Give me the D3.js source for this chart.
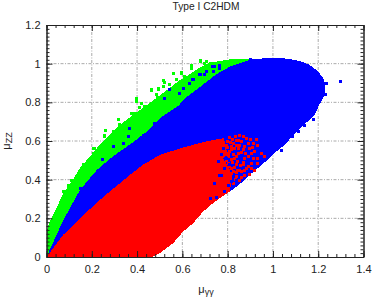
<!DOCTYPE html>
<html>
<head>
<meta charset="utf-8">
<script src="https://cdn.jsdelivr.net/npm/d3@7"></script>
<style>
  html, body { margin: 0; padding: 0; background: #fff; }
  text { font-family: "Liberation Sans", Arial, sans-serif; fill: #222; }
</style>
</head>
<body>
<div id="chart"></div>
<script>
// Axis ticks
const xTicks = [0, 0.2, 0.4, 0.6, 0.8, 1, 1.2, 1.4];
const yTicks = [0, 0.2, 0.4, 0.6, 0.8, 1, 1.2];
const xMinorTicks = d3.range(0, 36).map(i => i * 0.04);
const yMinorTicks = d3.range(0, 61).map(i => i * 0.02);

// Outlines of the dense regions as [mu_yy, mu_zz]
const greenOutline = [[0,0],[0,.12],[.012,.18],[.037,.234],[.074,.33],[.111,.39],[.148,.46],[.206,.54],[.25,.60],[.31,.67],[.382,.735],[.442,.785],[.5,.835],[.545,.875],[.589,.915],[.633,.945],[.677,.98],[.721,1.005],[.809,1.022],[.897,1.025],[.9,.9],[.3,.4]];
const blueOutline = [[0,0],[.074,.19],[.148,.347],[.222,.45],[.293,.52],[.376,.588],[.442,.648],[.5,.717],[.581,.781],[.62,.828],[.662,.865],[.75,.945],[.809,.984],[.897,1.02],[.96,1.028],[1.016,1.03],[1.07,1.025],[1.118,1.014],[1.16,.995],[1.193,.967],[1.22,.93],[1.232,.89],[1.228,.838],[1.206,.79],[1.184,.735],[1.134,.68],[1.09,.63],[1.052,.58],[1.007,.538],[.985,.512],[.941,.467],[.897,.424],[.853,.376],[.809,.338],[.5,.1],[0,0]];
const redOutline = [[0,0],[.073,.114],[.178,.233],[.25,.31],[.368,.424],[.425,.476],[.5,.528],[.6,.565],[.694,.595],[.783,.615],[.8,.53],[.78,.51],[.81,.45],[.82,.41],[.809,.338],[.743,.286],[.691,.234],[.647,.174],[.603,.131],[.559,.071],[.5,.019],[.465,0],[.46,-.004],[0,-.004]];

// Loose points around the dense regions
const greenPoints = [[.464,.860],[.489,.825],[.420,.795],[.398,.803],[.434,.781],[.390,.743],[.383,.717],[.342,.678],[.317,.709],[.332,.671],[.295,.648],[.310,.631],[.258,.631],[.280,.614],[.214,.562],[.228,.562],[.680,1.014],[.640,.993],[.640,.976],[.596,.950],[.559,.947],[.611,.933],[.574,.916],[.522,.904],[.515,.881],[.462,.864],[.486,.838],[.493,.873],[.545,.890],[.699,1.002],[.724,1.002],[.757,1.002],[.398,.821],[.515,.912],[.596,.953],[.493,.868],[.376,.743],[.409,.774],[.262,.652],[.254,.622],[.206,.562],[.324,.683],[.162,.481],[.184,.488],[.206,.533],[.111,.398],[.096,.372],[.074,.338],[.148,.424],[.678,1.01],[.642,.985],[.707,1.01]];
const bluePoints = [[.478,.692],[.368,.666],[.361,.622],[.295,.571],[.339,.588],[.427,.631],[.733,.984],[.706,.959],[.699,.942],[.647,.916],[.603,.873],[.545,.864],[.522,.821],[.589,.847],[.633,.899],[.743,.984],[.677,.942],[.765,.976],[.899,1.023],[.765,.988],[.737,.959],[.678,.942],[.649,.916],[.228,.45],[.148,.355],[.249,.502],[.067,.097],[1.3,.909],[1.232,.838],[1.237,.899],[1.215,.924],[1.178,.712],[1.141,.678],[1.112,.648],[1.087,.622],[1.053,.596],[1.038,.55]];
const redPoints = [[.927,.610],[.868,.622],[.853,.628],[.883,.614],[.839,.605],[.809,.617],[.824,.588],[.890,.588],[.912,.588],[.934,.579],[.897,.562],[.868,.554],[.853,.579],[.919,.545],[.890,.519],[.949,.536],[.912,.511],[.875,.511],[.905,.485],[.934,.485],[.883,.459],[.868,.480],[.919,.450],[.853,.450],[.831,.511],[.817,.554],[.802,.536],[.839,.476],[.817,.459],[.897,.428],[.875,.424],[.839,.415],[.853,.398],[.824,.381],[.846,.536],[.802,.485],[.934,.511],[.963,.519],[.794,.579],
  [.80,.60],[.812,.59],[.80,.565],[.815,.57],[.83,.56],[.81,.545],[.825,.53],[.84,.52],[.805,.52],[.815,.505],[.795,.5],[.82,.49],[.845,.495],[.81,.47],[.83,.465],[.8,.455],[.825,.44],[.845,.45],[.815,.43],[.84,.435],[.86,.44],[.835,.4],[.86,.41],[.85,.56],[.84,.575],[.86,.595],[.875,.57],[.835,.625],[.82,.61],[.85,.605],[.9,.61],[.86,.54],[.88,.535],[.905,.535],[.87,.49],[.89,.47],[.855,.475],[.905,.46],[.875,.445],[.91,.565]];
const blueOnRed = [[.765,.424],[.794,.511],[.787,.459],[.772,.528],[.806,.476],[.743,.381],[.78,.562],[.758,.493],[.772,.42],[.817,.39],[.839,.398],[.802,.372],[.787,.338],[.75,.307],[.725,.304]];

const width = 374, height = 298;
const plotLeft = 46.5, plotRight = 363.5, plotTop = 25, plotBottom = 257;

const x = d3.scaleLinear().domain([0, 1.4]).range([plotLeft, plotRight]);
const y = d3.scaleLinear().domain([0, 1.2]).range([plotBottom, plotTop]);

const svg = d3.select("#chart")
  .append("svg")
  .attr("width", width)
  .attr("height", height)
  .style("display", "block");

// Dotted grid
svg.append("g")
  .selectAll("line")
  .data(xTicks.slice(1, -1))
  .join("line")
  .attr("x1", d => x(d)).attr("x2", d => x(d))
  .attr("y1", plotTop).attr("y2", plotBottom)
  .attr("stroke", "#aaa").attr("stroke-dasharray", "3 1.5 1 1.5");

svg.append("g")
  .selectAll("line")
  .data(yTicks.slice(1, -1))
  .join("line")
  .attr("x1", plotLeft).attr("x2", plotRight)
  .attr("y1", d => y(d)).attr("y2", d => y(d))
  .attr("stroke", "#aaa").attr("stroke-dasharray", "3 1.5 1 1.5");

// Dense regions, then the loose points
const outline = d3.line().x(d => x(d[0])).y(d => y(d[1]));

function drawRegion(points, color) {
  svg.append("path")
    .attr("d", outline(points) + "Z")
    .attr("fill", color)
    .attr("shape-rendering", "crispEdges");
}

function drawPoints(points, color) {
  svg.append("g")
    .selectAll("rect")
    .data(points)
    .join("rect")
    .attr("x", d => Math.round(x(d[0]) - 1.5))
    .attr("y", d => Math.round(y(d[1]) - 1.5))
    .attr("width", 3)
    .attr("height", 3)
    .attr("fill", color);
}

drawRegion(greenOutline, "#00ff00");
drawPoints(greenPoints, "#00ff00");
drawRegion(blueOutline, "#0000ff");
drawPoints(bluePoints, "#0000ff");
drawRegion(redOutline, "#ff0000");
drawPoints(redPoints, "#ff0000");
drawPoints(blueOnRed, "#0000ff");

// Frame with inward ticks on all four sides
function styleAxis(g) {
  g.selectAll(".domain").attr("stroke", "#222");
  g.selectAll("line").attr("stroke", "#222");
}

svg.append("g").attr("transform", `translate(0,${plotBottom})`)
  .call(d3.axisBottom(x).tickValues(xMinorTicks).tickSize(-3).tickSizeOuter(0).tickFormat(""))
  .call(styleAxis);
svg.append("g").attr("transform", `translate(0,${plotTop})`)
  .call(d3.axisTop(x).tickValues(xMinorTicks).tickSize(-3).tickSizeOuter(0).tickFormat(""))
  .call(styleAxis);
svg.append("g").attr("transform", `translate(${plotLeft},0)`)
  .call(d3.axisLeft(y).tickValues(yMinorTicks).tickSize(-3).tickSizeOuter(0).tickFormat(""))
  .call(styleAxis);
svg.append("g").attr("transform", `translate(${plotRight},0)`)
  .call(d3.axisRight(y).tickValues(yMinorTicks).tickSize(-3).tickSizeOuter(0).tickFormat(""))
  .call(styleAxis);

const xAxis = svg.append("g").attr("transform", `translate(0,${plotBottom})`)
  .call(d3.axisBottom(x).tickValues(xTicks).tickSize(-6).tickSizeOuter(0).tickPadding(8).tickFormat(d3.format("~g")))
  .call(styleAxis);
const yAxis = svg.append("g").attr("transform", `translate(${plotLeft},0)`)
  .call(d3.axisLeft(y).tickValues(yTicks).tickSize(-6).tickSizeOuter(0).tickPadding(6).tickFormat(d3.format("~g")))
  .call(styleAxis);
svg.append("g").attr("transform", `translate(${plotRight},0)`)
  .call(d3.axisRight(y).tickValues(yTicks).tickSize(-6).tickSizeOuter(0).tickFormat(""))
  .call(styleAxis);
svg.append("g").attr("transform", `translate(0,${plotTop})`)
  .call(d3.axisTop(x).tickValues(xTicks).tickSize(-6).tickSizeOuter(0).tickFormat(""))
  .call(styleAxis);

xAxis.selectAll("text").attr("font-size", 11).attr("font-family", null);
yAxis.selectAll("text").attr("font-size", 11).attr("font-family", null);

// Title and axis labels
svg.append("text")
  .attr("x", 206).attr("y", 9.5)
  .attr("text-anchor", "middle")
  .attr("font-size", 10.2)
  .text("Type I C2HDM");

const xLabel = svg.append("text")
  .attr("x", 206).attr("y", 293)
  .attr("text-anchor", "middle")
  .attr("font-size", 11);
xLabel.append("tspan").text("μ");
xLabel.append("tspan").attr("dy", 2).attr("font-size", 9).text("γγ");

const yLabel = svg.append("text")
  .attr("transform", "translate(10,141) rotate(-90)")
  .attr("text-anchor", "middle")
  .attr("font-size", 11);
yLabel.append("tspan").text("μ");
yLabel.append("tspan").attr("dy", 2).attr("font-size", 9).text("ZZ");
</script>
</body>
</html>
